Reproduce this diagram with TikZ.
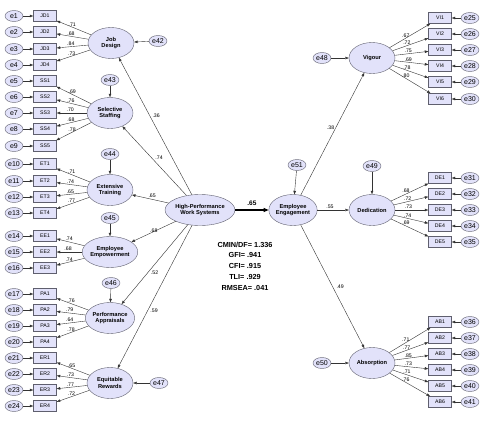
\documentclass[tikz,border=0pt]{standalone}
\usepackage{fontspec}
\setmainfont{Liberation Sans}
\usetikzlibrary{shapes.geometric, arrows.meta}
\definecolor{lav}{RGB}{226,226,250}
\definecolor{edge}{RGB}{95,95,110}

\begin{document}
\begin{tikzpicture}[x=1pt, y=-1pt,
    >={Triangle[length=3.5pt,width=2.6pt]},
    main/.style = {draw=edge, ellipse, fill=lav, minimum width=46pt, minimum height=31pt,
        inner sep=0pt, align=center, font=\fontsize{5.7}{6.8}\selectfont\bfseries},
    ind/.style = {draw=edge, rectangle, fill=lav, minimum width=23pt, minimum height=11pt,
        inner sep=0pt, font=\fontsize{5.2}{5.5}\selectfont},
    err/.style = {draw=edge, ellipse, fill=lav, minimum width=18pt, minimum height=11pt,
        inner sep=0pt, font=\fontsize{7}{7}\selectfont},
    lab/.style = {font=\fontsize{5.2}{5.5}\selectfont, inner sep=0.8pt},
    path/.style = {->, draw=black!80, line width=0.4pt}]
    \useasboundingbox (0,0) rectangle (484,423);

    % latent factors
    \node[main] at (111, 43) (JD) {Job\\Design};
    \node[main] at (110, 113) (SS) {Selective\\Staffing};
    \node[main] at (110, 190) (ET) {Extensive\\Training};
    \node[main] at (110, 252) (EE) {Employee\\Empowerment};
    \node[main] at (110, 318) (PA) {Performance\\Appraisals};
    \node[main] at (110, 383) (ER) {Equitable\\Rewards};
    \node[main, minimum width=58pt] at (200, 210) (HPWS) {High-Performance\\Work Systems};
    \node[main, minimum width=48pt] at (293, 210) (ENG) {Employee\\Engagement};
    \node[main] at (372, 58) (VI) {Vigour};
    \node[main] at (372, 210) (DE) {Dedication};
    \node[main] at (372, 363) (AB) {Absorption};

    % residuals of the latent factors
    \node[err] at (158, 41) (e42) {e42};
    \node[err] at (110, 80) (e43) {e43};
    \node[err] at (110, 154) (e44) {e44};
    \node[err] at (110, 218) (e45) {e45};
    \node[err] at (111, 283) (e46) {e46};
    \node[err] at (159, 383) (e47) {e47};
    \node[err] at (322, 58) (e48) {e48};
    \node[err] at (372, 166) (e49) {e49};
    \node[err] at (322, 363) (e50) {e50};
    \node[err] at (297, 165) (e51) {e51};

    \draw [path] (e42) -- (JD);
    \draw [path] (e43) -- (SS);
    \draw [path] (e44) -- (ET);
    \draw [path] (e45) -- (EE);
    \draw [path] (e46) -- (PA);
    \draw [path] (e47) -- (ER);
    \draw [path] (e48) -- (VI);
    \draw [path] (e49) -- (DE);
    \draw [path] (e50) -- (AB);
    \draw [path] (e51) -- (ENG);

    % left indicators
    \foreach \n/\y/\f/\v/\e in {JD1/16/JD/.71/1, JD2/32/JD/.68/2, JD3/49/JD/.84/3, JD4/65/JD/.73/4,
        SS1/81/SS/.69/5, SS2/97/SS/.76/6, SS3/113/SS/.70/7, SS4/129/SS/.68/8, SS5/146/SS/.78/9,
        ET1/164/ET/.71/10, ET2/181/ET/.74/11, ET3/197/ET/.65/12, ET4/213/ET/.77/13,
        EE1/236/EE/.74/14, EE2/252/EE/.68/15, EE3/268/EE/.74/16,
        PA1/294/PA/.76/17, PA2/310/PA/.79/18, PA3/326/PA/.64/19, PA4/342/PA/.78/20,
        ER1/358/ER/.65/21, ER2/374/ER/.73/22, ER3/390/ER/.77/23, ER4/406/ER/.72/24} {
        \node[ind] at (45, \y) (\n) {\n};
        \node[err] at (14, \y) (e\e) {e\e};
        \draw [path] (e\e) -- (\n);
        \draw [path] (\f) -- node[lab, pos=0.55, above] {\v} (\n);
    }

    % right indicators
    \foreach \n/\y/\f/\v/\e in {VI1/18/VI/.67/25, VI2/34/VI/.72/26, VI3/50/VI/.75/27,
        VI4/66/VI/.69/28, VI5/82/VI/.78/29, VI6/99/VI/.80/30,
        DE1/178/DE/.68/31, DE2/194/DE/.72/32, DE3/210/DE/.73/33, DE4/226/DE/.74/34, DE5/242/DE/.69/35,
        AB1/322/AB/.71/36, AB2/338/AB/.77/37, AB3/354/AB/.85/38,
        AB4/370/AB/.73/39, AB5/386/AB/.71/40, AB6/402/AB/.76/41} {
        \node[ind] at (440, \y) (\n) {\n};
        \node[err] at (470, \y) (e\e) {e\e};
        \draw [path] (e\e) -- (\n);
        \draw [path] (\f) -- node[lab, pos=0.4, above] {\v} (\n);
    }

    % structural paths
    \draw [path] (HPWS) -- node[lab, pos=0.58, right=2pt] {.36} (JD);
    \draw [path] (HPWS) -- node[lab, pos=0.5, above right] {.74} (SS);
    \draw [path] (HPWS) -- node[lab, pos=0.45, above=1pt] {.65} (ET);
    \draw [path] (HPWS) -- node[lab, pos=0.6, above right] {.68} (EE);
    \draw [path] (HPWS) -- node[lab, pos=0.6, right=2pt] {.52} (PA);
    \draw [path] (HPWS) -- node[lab, pos=0.6, right=2pt] {.59} (ER);
    \draw [->, line width=1.2pt, >={Triangle[length=5pt,width=4pt]}] (HPWS) --
        node[above=1pt, font=\fontsize{6.5}{7}\selectfont\bfseries] {.65} (ENG);
    \draw [path] (ENG) -- node[lab, pos=0.55, left=0.5pt] {.38} (VI);
    \draw [path] (ENG) -- node[lab, pos=0.4, above] {.55} (DE);
    \draw [path] (ENG) -- node[lab, pos=0.5, right=3pt] {.49} (AB);

    % model fit
    \node[align=center, font=\fontsize{7.3}{10.8}\selectfont\bfseries] at (245, 266) (fit)
        {CMIN/DF= 1.336\\GFI= .941\\CFI= .915\\TLI= .929\\RMSEA= .041};
\end{tikzpicture}
\end{document}
